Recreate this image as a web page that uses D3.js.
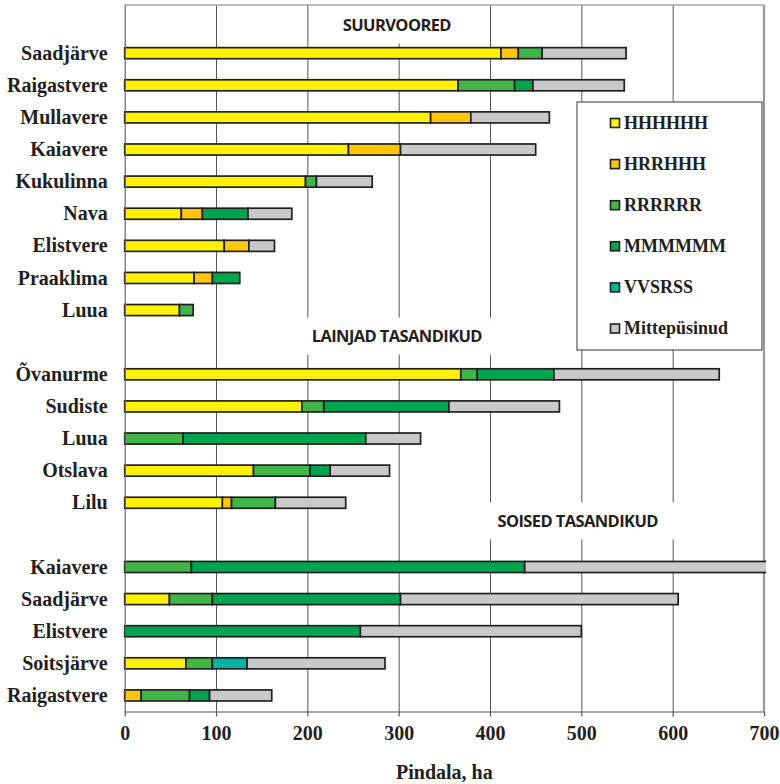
<!DOCTYPE html>
<html>
<head>
<meta charset="utf-8">
<script src="https://cdn.jsdelivr.net/npm/d3@7/dist/d3.min.js"></script>
<style>
  html, body { margin: 0; padding: 0; background: #fff; }
  svg { display: block; }
</style>
</head>
<body>
<svg id="chart" width="780" height="784"></svg>
<script>
// ---------- DATA ----------
const categories = ["", "Saadjärve", "Raigastvere", "Mullavere", "Kaiavere", "Kukulinna", "Nava", "Elistvere", "Praaklima", "Luua",
  "", "Õvanurme", "Sudiste", "Luua", "Otslava", "Lilu",
  "", "Kaiavere", "Saadjärve", "Elistvere", "Soitsjärve", "Raigastvere"];

const seriesNames = ["HHHHHH", "HRRHHH", "RRRRRR", "MMMMMM", "VVSRSS", "Mittepüsinud"];

const valuesHHHHHH = [0, 412, 365, 335, 245, 198, 62, 109, 76, 60, 0, 368, 194, 0, 141, 107, 0, 0, 49, 0, 67, 0];
const valuesHRRHHH = [0, 19, 0, 44, 57, 0, 23, 27, 20, 0, 0, 0, 0, 0, 0, 10, 0, 0, 0, 0, 0, 18];
const valuesRRRRRR = [0, 26, 62, 0, 0, 12, 0, 0, 0, 15, 0, 18, 24, 64, 62, 48, 0, 73, 47, 0, 29, 53];
const valuesMMMMMM = [0, 0, 20, 0, 0, 0, 50, 0, 30, 0, 0, 84, 137, 200, 22, 0, 0, 365, 206, 258, 0, 22];
const valuesVVSRSS = [0, 0, 0, 0, 0, 0, 0, 0, 0, 0, 0, 0, 0, 0, 0, 0, 0, 0, 0, 0, 38, 0];
const valuesMitte  = [0, 92, 100, 86, 148, 61, 48, 28, 0, 0, 0, 181, 121, 60, 65, 77, 0, 300, 304, 242, 151, 68];

const seriesColors = ["#FFF200", "#FFC60B", "#42B549", "#00A34E", "#00B3A4", "#C8C9CB"];

const xTicks = [0, 100, 200, 300, 400, 500, 600, 700];
const groupTitles = ["SUURVOORED", "LAINJAD TASANDIKUD", "SOISED TASANDIKUD"];
const axisTitle = "Pindala, ha";

// ---------- BUILD TABLE ----------
const seriesValues = [valuesHHHHHH, valuesHRRHHH, valuesRRRRRR, valuesMMMMMM, valuesVVSRSS, valuesMitte];
const table = categories.map((c, i) => {
  const row = { idx: i, name: c };
  seriesNames.forEach((s, k) => row[s] = seriesValues[k][i]);
  return row;
});

// ---------- LAYOUT ----------
const svg = d3.select("#chart");
const pLeft = 124.7, pRight = 764, pTop = 5, pBottom = 711.5;
const serif = "'Liberation Serif', 'Times New Roman', serif";
const sans = "'Open Sans', 'Noto Sans', sans-serif";

const x = d3.scaleLinear().domain([0, 700]).range([pLeft, pRight]);
const y = d3.scaleBand().domain(d3.range(categories.length)).range([pTop, pBottom])
  .paddingInner(0.64).paddingOuter(0.32);
const slotCenter = i => y(i) + y.bandwidth() / 2;

// gridlines
const gridG = svg.append("g").attr("transform", `translate(0,${pBottom})`)
  .call(d3.axisBottom(x).tickValues(xTicks.filter(t => t > 0 && t < 700)).tickSize(-(pBottom - pTop)).tickFormat(""));
gridG.select(".domain").remove();
gridG.selectAll("line").attr("stroke", "#555").attr("stroke-width", 1);

// group title boxes (white) + text
const titleSpecs = [
  { text: groupTitles[0], cx: 298, slot: 0, dy: 4, x0: 205, x1: 395 },
  { text: groupTitles[1], cx: 298, slot: 10, dy: -6, x0: 192, x1: 403 },
  { text: groupTitles[2], cx: 496, slot: 16, dy: -14, x0: 394, x1: 604 }
];
const titleG = svg.append("g");
titleSpecs.forEach(t => {
  const cy = slotCenter(t.slot) + t.dy;
  const y0 = t.slot === 0 ? pTop : cy - 18.5;
  const y1 = cy + 18.5;
  titleG.append("rect").attr("x", x(t.x0)).attr("y", y0).attr("width", x(t.x1) - x(t.x0)).attr("height", y1 - y0)
    .attr("fill", "#fff");
  titleG.append("text").attr("x", x(t.cx)).attr("y", cy).attr("dy", "0.36em")
    .attr("text-anchor", "middle").attr("font-family", sans).attr("font-weight", 700)
    .attr("font-size", 16.5).attr("letter-spacing", "-0.6px").attr("fill", "#231f20").text(t.text);
});

// borders: top + right (light grey)
svg.append("line").attr("x1", pLeft).attr("x2", pRight).attr("y1", pTop).attr("y2", pTop)
  .attr("stroke", "#a6a6a6").attr("stroke-width", 1.5);
svg.append("line").attr("x1", pRight).attr("x2", pRight).attr("y1", pTop).attr("y2", pBottom)
  .attr("stroke", "#999").attr("stroke-width", 2.2);

// bars
svg.append("clipPath").attr("id", "plotClip").append("rect")
  .attr("x", pLeft - 3).attr("y", 0).attr("width", pRight + 2 - (pLeft - 3)).attr("height", pBottom + 2);
const stacked = d3.stack().keys(seriesNames)(table);
const barH = y.bandwidth() - 0.5;
const barG = svg.append("g").attr("clip-path", "url(#plotClip)");
stacked.forEach((layer, k) => {
  barG.append("g").selectAll("rect")
    .data(layer.filter(d => d[1] - d[0] > 0))
    .join("rect")
    .attr("x", d => x(d[0]))
    .attr("width", d => x(d[1]) - x(d[0]))
    .attr("y", d => slotCenter(d.data.idx) - barH / 2)
    .attr("height", barH)
    .attr("fill", seriesColors[k])
    .attr("stroke", "#231f20")
    .attr("stroke-width", 1.7);
});

// x axis
const xAxisG = svg.append("g").attr("transform", `translate(0,${pBottom})`)
  .call(d3.axisBottom(x).tickValues(xTicks).tickSize(5).tickSizeOuter(0).tickPadding(10).tickFormat(d => d));
xAxisG.select(".domain").attr("stroke", "#555").attr("stroke-width", 1.2);
xAxisG.selectAll(".tick line").attr("stroke", "#555").attr("stroke-width", 1.2);
xAxisG.selectAll(".tick text").attr("font-family", serif).attr("font-weight", 700)
  .attr("font-size", 20).attr("fill", "#231f20").attr("dy", "0.68em");

// y axis
const yAxisG = svg.append("g").attr("transform", `translate(${pLeft},0)`)
  .call(d3.axisLeft(y).tickSize(0).tickSizeOuter(0).tickPadding(17).tickFormat(i => categories[i]));
yAxisG.select(".domain").attr("stroke", "#666").attr("stroke-width", 1.2);
yAxisG.selectAll(".tick text").attr("font-family", serif).attr("font-weight", 700)
  .attr("font-size", 20).attr("fill", "#231f20").attr("dy", "0.33em");

// axis title
svg.append("text").attr("x", (pLeft + pRight) / 2).attr("y", 779).attr("text-anchor", "middle")
  .attr("font-family", serif).attr("font-weight", 700).attr("font-size", 20).attr("fill", "#231f20")
  .text(axisTitle);

// legend
const legendG = svg.append("g");
legendG.append("rect").attr("x", 577).attr("y", 102).attr("width", 185).attr("height", 248)
  .attr("fill", "#fff").attr("stroke", "#555").attr("stroke-width", 1.2);
const legendStep = 41.1;
seriesNames.forEach((s, k) => {
  const cy = 123 + k * legendStep;
  legendG.append("rect").attr("x", 610.5).attr("y", cy - 4.5).attr("width", 9).attr("height", 9)
    .attr("fill", seriesColors[k]).attr("stroke", "#231f20").attr("stroke-width", 1.6);
  legendG.append("text").attr("x", 624).attr("y", cy).attr("dy", "0.33em")
    .attr("font-family", serif).attr("font-weight", 700).attr("font-size", 18).attr("fill", "#231f20")
    .text(s);
});
</script>
</body>
</html>
